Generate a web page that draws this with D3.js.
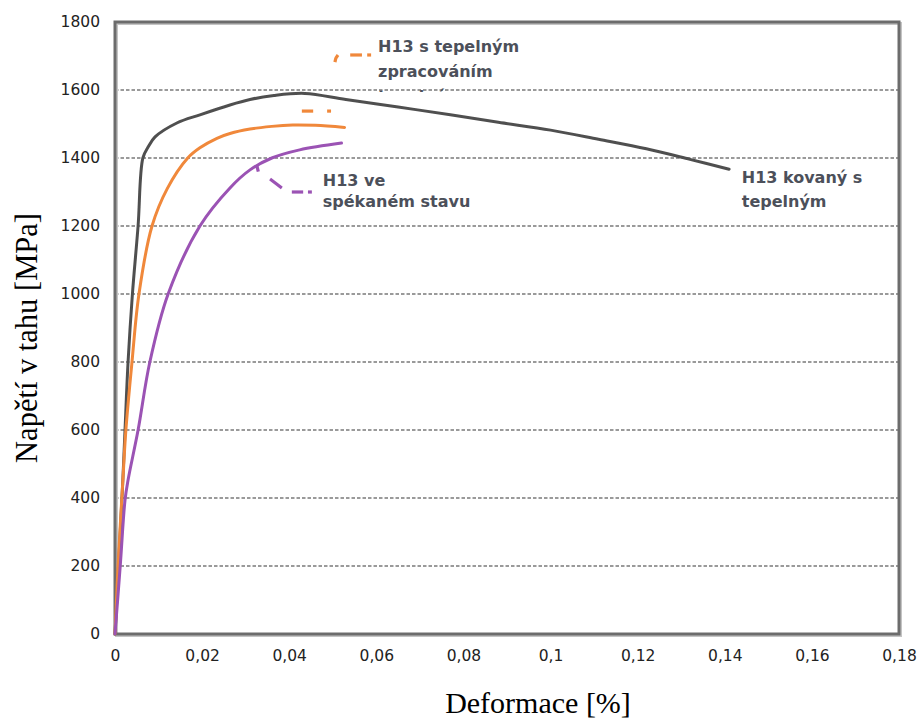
<!DOCTYPE html>
<html>
<head>
<meta charset="utf-8">
<script src="https://cdn.jsdelivr.net/npm/d3@7"></script>
<style>
  html, body { margin: 0; padding: 0; background: #fff; }
  svg { display: block; }
</style>
</head>
<body>
<script>
// Tensile test curves of H13 tool steel: stress [MPa] vs. deformation
const xTicks = [0, 0.02, 0.04, 0.06, 0.08, 0.1, 0.12, 0.14, 0.16, 0.18];
const yTicks = [0, 200, 400, 600, 800, 1000, 1200, 1400, 1600, 1800];
const gridValues = [200, 400, 600, 800, 1000, 1200, 1400, 1600];

// H13 kovaný s tepelným zpracováním
const forgedX = [0, 0.0018, 0.0023, 0.0030, 0.0040, 0.0053, 0.0064, 0.0076, 0.0092, 0.0142, 0.0195, 0.0264, 0.031, 0.0365, 0.0436, 0.053, 0.065, 0.077, 0.088, 0.100, 0.111, 0.122, 0.132, 0.141];
const forgedY = [0, 453, 600, 800, 1000, 1200, 1400, 1432, 1462, 1503, 1527, 1556, 1572, 1584, 1590, 1572, 1550, 1527, 1505, 1482, 1455, 1427, 1396, 1367];

// H13 s tepelným zpracováním
const heatX = [0, 0.0007, 0.0018, 0.0025, 0.0039, 0.0055, 0.0085, 0.012, 0.0167, 0.0195, 0.0234, 0.0264, 0.031, 0.036, 0.0408, 0.046, 0.0527];
const heatY = [0, 200, 450, 600, 800, 1000, 1200, 1310, 1400, 1430, 1458, 1472, 1485, 1493, 1497, 1496, 1490];

// H13 ve spékaném stavu
const sinterX = [0, 0.0012, 0.0023, 0.0030, 0.0053, 0.0080, 0.0122, 0.0195, 0.0264, 0.031, 0.036, 0.0424, 0.052];
const sinterY = [0, 200, 394, 453, 600, 800, 1000, 1200, 1312, 1365, 1400, 1424, 1444];

const seriesNames = ["H13 kovaný s tepelným", "H13 s tepelným zpracováním", "H13 ve spékaném stavu"];
const seriesColors = ["#505050", "#f0883a", "#9b52b4"];

const width = 923, height = 722;
const margin = { left: 115, right: 24, top: 22, bottom: 88 };

const svg = d3.select("body").append("svg")
  .attr("width", width).attr("height", height);

const x = d3.scaleLinear().domain([0, 0.18]).range([margin.left, width - margin.right]);
const y = d3.scaleLinear().domain([0, 1800]).range([height - margin.bottom, margin.top]);

const defs = svg.append("defs");
defs.append("filter").attr("id", "soft")
  .attr("filterUnits", "userSpaceOnUse")
  .attr("x", 0).attr("y", 0).attr("width", width).attr("height", height)
  .append("feGaussianBlur").attr("stdDeviation", 0.5);
defs.append("clipPath").attr("id", "clipTop")
  .append("rect").attr("x", 0).attr("y", 0).attr("width", width).attr("height", y(1600) + 2);

// dashed horizontal gridlines
svg.append("g").selectAll("line").data(gridValues).join("line")
  .attr("x1", x(0)).attr("x2", x(0.18))
  .attr("y1", d => y(d)).attr("y2", d => y(d))
  .attr("stroke", "#7a7a7a").attr("stroke-width", 1.4)
  .attr("stroke-dasharray", "3.5,2");

// frame with a light shadow
svg.append("rect")
  .attr("x", x(0) + 1.5).attr("y", y(1800) + 1.5)
  .attr("width", x(0.18) - x(0)).attr("height", y(0) - y(1800))
  .attr("fill", "none").attr("stroke", "#c4c4c4").attr("stroke-width", 3)
  .attr("filter", "url(#soft)");
svg.append("rect")
  .attr("x", x(0)).attr("y", y(1800))
  .attr("width", x(0.18) - x(0)).attr("height", y(0) - y(1800))
  .attr("fill", "none").attr("stroke", "#6c6c6c").attr("stroke-width", 3);

// axes (labels only, the frame carries the lines)
const fmtX = d => String(d).replace(".", ",");
const xAxis = svg.append("g").attr("transform", `translate(0,${y(0)})`)
  .call(d3.axisBottom(x).tickValues(xTicks).tickFormat(fmtX).tickSize(0).tickPadding(16));
const yAxis = svg.append("g").attr("transform", `translate(${x(0)},0)`)
  .call(d3.axisLeft(y).tickValues(yTicks).tickFormat(d => String(d)).tickSize(0).tickPadding(15));
[xAxis, yAxis].forEach(g => {
  g.select(".domain").remove();
  g.selectAll("text").attr("font-family", "DejaVu Sans").attr("font-size", 15.5)
    .attr("fill", "#222");
});

// curves
const line = d3.line().x(d => x(d[0])).y(d => y(d[1])).curve(d3.curveCatmullRom.alpha(0.5));
const seriesData = [
  d3.zip(forgedX, forgedY),
  d3.zip(heatX, heatY),
  d3.zip(sinterX, sinterY)
];
svg.append("g").selectAll("path").data(seriesData).join("path")
  .attr("d", line)
  .attr("fill", "none")
  .attr("stroke", (d, i) => seriesColors[i])
  .attr("stroke-width", 3)
  .attr("stroke-linejoin", "round")
  .attr("stroke-linecap", "round")
  .attr("filter", "url(#soft)");

// leader fragments next to the series labels
const leaderSegments = [
  { c: 1, pts: [[0.0505, 1682], [0.0507, 1695], [0.0512, 1703]] },
  { c: 1, pts: [[0.0540, 1703], [0.0567, 1703]] },
  { c: 1, pts: [[0.0579, 1703], [0.0588, 1703]] },
  { c: 1, pts: [[0.0429, 1538], [0.0455, 1538]] },
  { c: 1, pts: [[0.0487, 1538], [0.0496, 1538]] },
  { c: 2, pts: [[0.0326, 1376], [0.0329, 1360]] },
  { c: 2, pts: [[0.0356, 1338], [0.0383, 1312]] },
  { c: 2, pts: [[0.0406, 1300], [0.0432, 1300]] },
  { c: 2, pts: [[0.0443, 1300], [0.0452, 1300]] }
];
const segLine = d3.line().x(d => x(d[0])).y(d => y(d[1])).curve(d3.curveBasis);
svg.append("g").selectAll("path").data(leaderSegments).join("path")
  .attr("d", d => segLine(d.pts))
  .attr("fill", "none")
  .attr("stroke", d => seriesColors[d.c])
  .attr("stroke-width", 3.2)
  .attr("stroke-linecap", "butt")
  .attr("filter", "url(#soft)");

// series labels
const labelLines = [
  { x: 0.0604, y: 1712, t: "H13 s tepelným" },
  { x: 0.0604, y: 1638, t: "zpracováním" },
  { x: 0.0477, y: 1318, t: "H13 ve" },
  { x: 0.0477, y: 1256, t: "spékaném stavu" },
  { x: 0.1439, y: 1326, t: "H13 kovaný s" },
  { x: 0.1439, y: 1256, t: "tepelným" }
];
svg.append("g").selectAll("text").data(labelLines).join("text")
  .attr("x", d => x(d.x)).attr("y", d => y(d.y))
  .attr("font-family", "DejaVu Sans").attr("font-weight", "bold")
  .attr("font-size", 16).attr("fill", "#4c505a")
  .text(d => d.t);
// third line of the upper label, hidden under the 1600 line
svg.append("text")
  .attr("clip-path", "url(#clipTop)")
  .attr("x", x(0.0604)).attr("y", y(1565))
  .attr("font-family", "DejaVu Sans").attr("font-weight", "bold")
  .attr("font-size", 16).attr("fill", "#4c505a")
  .text("tepelným");

// axis titles
svg.append("text")
  .attr("x", 538).attr("y", 713)
  .attr("text-anchor", "middle")
  .attr("font-family", "Liberation Serif").attr("font-size", 30)
  .attr("fill", "#000")
  .text("Deformace [%]");
svg.append("text")
  .attr("transform", "translate(37,338) rotate(-90)")
  .attr("text-anchor", "middle")
  .attr("font-family", "Liberation Serif").attr("font-size", 30.5)
  .attr("fill", "#000")
  .text("Napětí v tahu [MPa]");
</script>
</body>
</html>
